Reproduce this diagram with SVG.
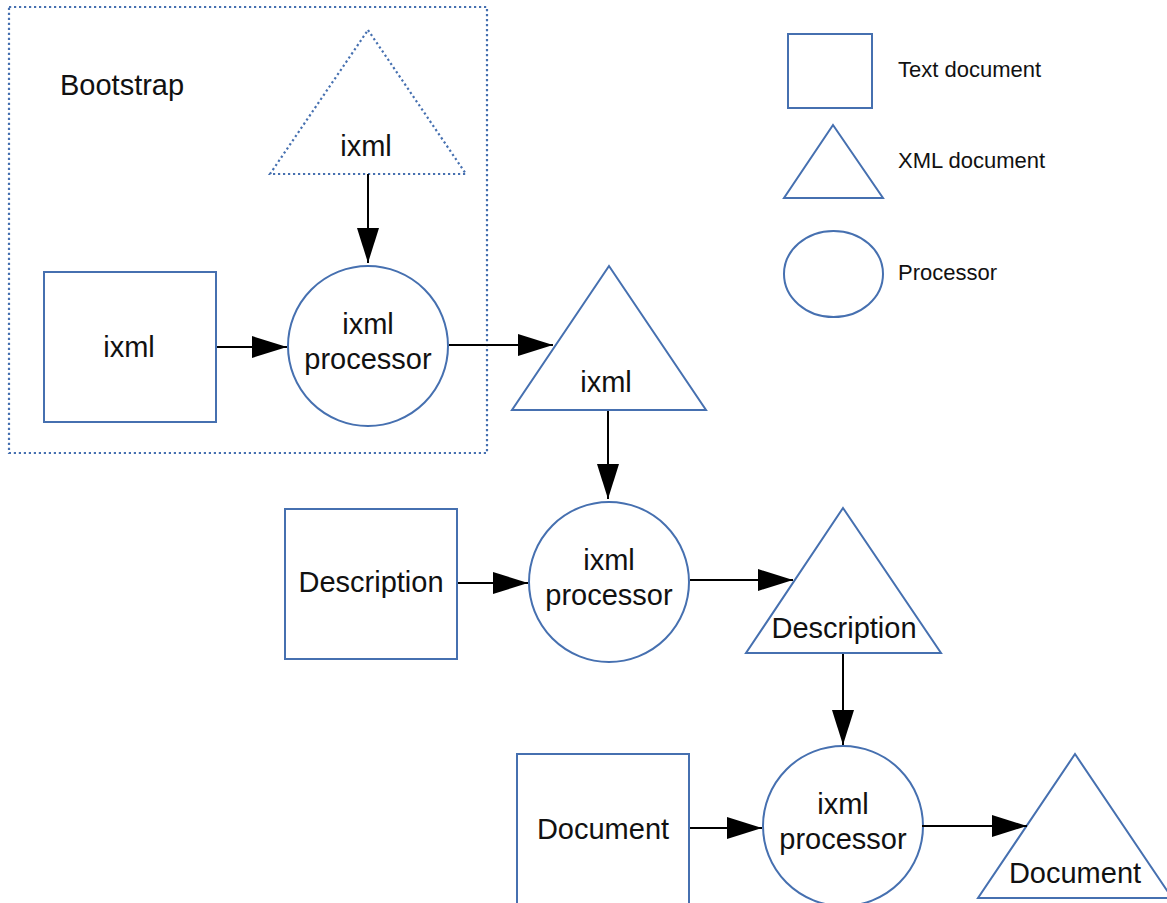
<svg xmlns="http://www.w3.org/2000/svg" width="1167" height="903" viewBox="0 0 1167 903">
<style>
.shape{fill:#ffffff;stroke:#4670b0;stroke-width:2}
.dotted{fill:none;stroke:#4670b0;stroke-width:2.2;stroke-dasharray:2.2 2.8}
.lbl{font-family:"Liberation Sans",Arial,sans-serif;font-size:29px;fill:#111111;text-anchor:middle}
.leg{font-family:"Liberation Sans",Arial,sans-serif;font-size:22px;fill:#111111}
.conn{stroke:#000000;stroke-width:2;fill:none;marker-end:url(#ah)}
</style>
<defs>
<marker id="ah" viewBox="0 0 35 22" refX="35" refY="11" markerWidth="35" markerHeight="22" markerUnits="userSpaceOnUse" orient="auto">
<path d="M0,0 L35,11 L0,22 z" fill="#000000"/>
</marker>
</defs>
<rect width="1167" height="903" fill="#ffffff"/>

<g id="bootstrap">
<rect class="dotted" x="9" y="7" width="478" height="446"/>
<text class="lbl" x="60" y="95" style="text-anchor:start">Bootstrap</text>
</g>

<g id="xml-ixml-boot">
<polygon class="dotted" points="368,30 466,174 270,174"/>
<text class="lbl" x="366" y="156">ixml</text>
</g>

<g id="text-ixml">
<rect class="shape" x="44" y="272" width="172" height="150"/>
<text class="lbl" x="129" y="357">ixml</text>
</g>

<g id="proc1">
<circle class="shape" cx="368" cy="346" r="80"/>
<text class="lbl" x="368" y="334">ixml</text>
<text class="lbl" x="368" y="369">processor</text>
</g>

<g id="xml-ixml">
<polygon class="shape" points="609,266 706,410 512,410"/>
<text class="lbl" x="606" y="392">ixml</text>
</g>

<g id="text-description">
<rect class="shape" x="285" y="509" width="172" height="150"/>
<text class="lbl" x="371" y="592">Description</text>
</g>

<g id="proc2">
<circle class="shape" cx="609" cy="582" r="80"/>
<text class="lbl" x="609" y="570">ixml</text>
<text class="lbl" x="609" y="605">processor</text>
</g>

<g id="xml-description">
<polygon class="shape" points="843,508 941,653 746,653"/>
<text class="lbl" x="844" y="638">Description</text>
</g>

<g id="text-document">
<rect class="shape" x="517" y="754" width="172" height="160"/>
<text class="lbl" x="603" y="839">Document</text>
</g>

<g id="proc3">
<circle class="shape" cx="843" cy="826" r="80"/>
<text class="lbl" x="843" y="814">ixml</text>
<text class="lbl" x="843" y="849">processor</text>
</g>

<g id="xml-document">
<polygon class="shape" points="1075,754 1172,898 978,898"/>
<text class="lbl" x="1075" y="883">Document</text>
</g>

<g id="legend">
<rect class="shape" x="788" y="34" width="84" height="74"/>
<text class="leg" x="898" y="77">Text document</text>
<polygon class="shape" points="833,125 883,198 784,198"/>
<text class="leg" x="898" y="168">XML document</text>
<ellipse class="shape" cx="833.5" cy="274" rx="49.5" ry="43"/>
<text class="leg" x="898" y="280">Processor</text>
</g>

<g id="connectors">
<line class="conn" x1="368" y1="174" x2="368" y2="263"/>
<line class="conn" x1="217" y1="347" x2="287" y2="347"/>
<line class="conn" x1="449" y1="345" x2="553" y2="345"/>
<line class="conn" x1="608" y1="411" x2="608" y2="499"/>
<line class="conn" x1="458" y1="583" x2="528" y2="583"/>
<line class="conn" x1="690" y1="580" x2="793" y2="580"/>
<line class="conn" x1="843" y1="654" x2="843" y2="745"/>
<line class="conn" x1="690" y1="828" x2="762" y2="828"/>
<line class="conn" x1="922" y1="826" x2="1027" y2="826"/>
</g>
</svg>
